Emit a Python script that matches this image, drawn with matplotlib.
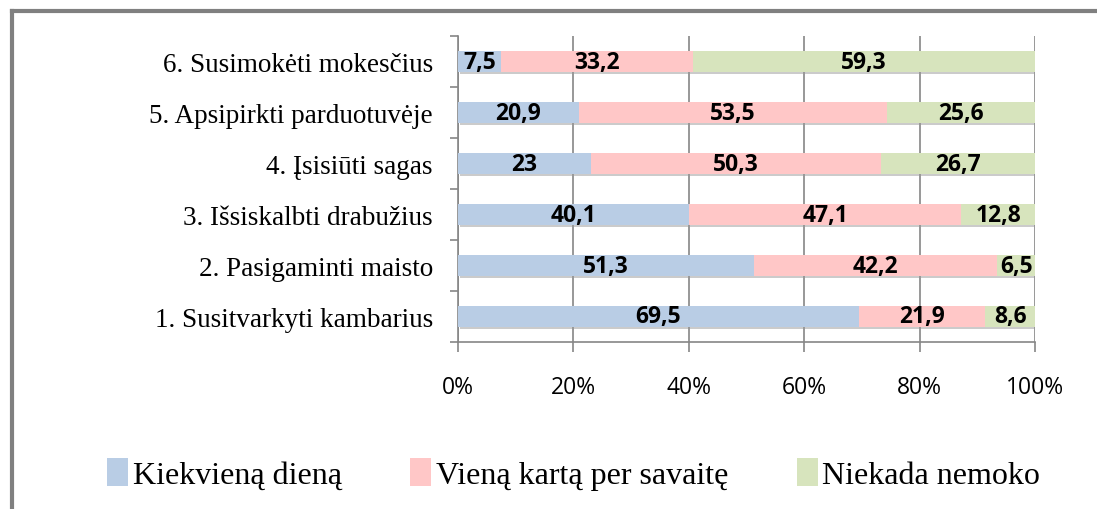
import matplotlib
matplotlib.use("Agg")
import matplotlib.pyplot as plt
import matplotlib.patheffects as pe
from matplotlib.lines import Line2D
from matplotlib.patches import Patch
import numpy as np

categories = ["1. Susitvarkyti kambarius", "2. Pasigaminti maisto", "3. Išsiskalbti drabužius",
              "4. Įsisiūti sagas", "5. Apsipirkti parduotuvėje", "6. Susimokėti mokesčius"]
kasdien = [69.5, 51.3, 40.1, 23, 20.9, 7.5]
savaite = [21.9, 42.2, 47.1, 50.3, 53.5, 33.2]
niekada = [8.6, 6.5, 12.8, 26.7, 25.6, 59.3]
series_names = ["Kiekvieną dieną", "Vieną kartą per savaitę", "Niekada nemoko"]
colors = ["#B9CDE5", "#FFC7C7", "#D7E4BD"]
xticks = [0, 20, 40, 60, 80, 100]

fig = plt.figure(figsize=(10.97, 5.10), dpi=100)
ax = fig.add_axes([458/1097, 1-343/510, (1035-458)/1097, (343-37)/510])

y = np.arange(len(categories))
left = np.zeros(len(categories))
shadow = [pe.SimplePatchShadow(offset=(1.5, -2), shadow_rgbFace="#999999", alpha=0.5), pe.Normal()]
for vals, col in zip([kasdien, savaite, niekada], colors):
    bars = ax.barh(y, vals, left=left, height=0.4, color=col, zorder=3)
    for b in bars:
        b.set_path_effects(shadow)
    for yi, l, v in zip(y, left, vals):
        txt = ("%g" % v).replace(".", ",")
        ax.text(l + v / 2, yi, txt, ha="center", va="center", fontsize=16.5,
                fontweight="bold", family="Open Sans", zorder=4)
    left = left + np.array(vals)

ax.set_xlim(0, 100)
ax.set_ylim(-0.5, 5.5)
ax.set_xticks(xticks)
ax.set_xticklabels(["%d%%" % t for t in xticks], family="Open Sans", fontsize=16.5)
ax.tick_params(axis="x", length=7, width=1.2, color="#868686", pad=17)
ax.grid(axis="x", color="#868686", linewidth=1.2, zorder=0)
ax.set_yticks(y)
ax.set_yticklabels(categories, family="Liberation Serif", fontsize=19.5)
ax.tick_params(axis="y", length=0, pad=18)
ax.set_yticks(np.arange(-0.5, 6.0, 1.0), minor=True)
ax.tick_params(axis="y", which="minor", length=6, color="#868686", width=1.2)
for s in ["top", "right"]:
    ax.spines[s].set_visible(False)
for s in ["left", "bottom"]:
    ax.spines[s].set_color("#868686")
    ax.spines[s].set_linewidth(1.2)

handles = [Patch(facecolor=c, edgecolor="none") for c in colors]
fig.legend(handles, series_names, loc="center", bbox_to_anchor=(0.523, 1-475/510), ncol=3,
           frameon=False, prop={"family": "Liberation Serif", "size": 23},
           handlelength=0.65, handleheight=1.0, handletextpad=0.15, columnspacing=2.15)

# outer frame (top and left edges visible)
fig.add_artist(Line2D([12/1097, 1], [1-12/510, 1-12/510], color="#808080", linewidth=3))
fig.add_artist(Line2D([12/1097, 12/1097], [0, 1-12/510], color="#808080", linewidth=3))

fig.savefig("out.png", dpi=100)
